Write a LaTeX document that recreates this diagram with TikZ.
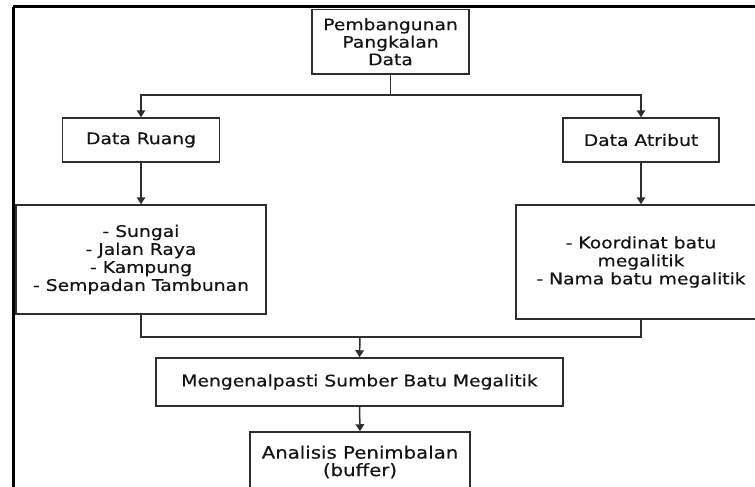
\documentclass[tikz,border=0pt]{standalone}
\usepackage{fontspec}
\setmainfont{DejaVu Sans}[FakeStretch=1.17,FakeBold=0.4]
\newfontfamily\anfont{DejaVu Sans}[FakeStretch=1.16,FakeBold=0.4]
\usetikzlibrary{arrows.meta}
\definecolor{inkc}{HTML}{141414}
\definecolor{boxc}{HTML}{2E2E2E}
\tikzset{
  box/.style={draw=boxc, line width=1.5pt, fill=white, align=center, text=inkc,
    inner sep=0pt, font=\fontsize{16}{17.5}\selectfont},
  conn/.style={draw=boxc, line width=1.5pt},
  arr/.style={conn, -{Triangle[width=8.5pt,length=7pt]}},
  frame/.style={draw=black, line width=3pt}
}
\begin{document}
\begin{tikzpicture}[x=1pt,y=-1pt]
\clip (0,0) rectangle (755,487);
\fill[white] (0,0) rectangle (755,487);
% outer frame (top and left edges visible)
\draw[frame] (13,7) -- (760,7);
\draw[frame] (13,7) -- (13,495);
% nodes
\node[box, minimum width=157pt, minimum height=64.5pt] (top) at (390.5,41.75)
  {Pembangunan\\Pangkalan\\Data};
\node[box, minimum width=157pt, minimum height=44pt] (ruang) at (141,140) {Data Ruang};
\node[box, minimum width=156pt, minimum height=44pt] (atribut) at (641,140) {Data Atribut};
\node[box, minimum width=250pt, minimum height=109pt, font=\fontsize{16}{18}\selectfont] (llist) at (141,259.5)
  {- Sungai\\- Jalan Raya\\- Kampung\\- Sempadan Tambunan};
\node[box, minimum width=250pt, minimum height=114pt, font=\fontsize{16}{18}\selectfont] (rlist) at (641,262)
  {- Koordinat batu\\megalitik\\- Nama batu megalitik};
\node[box, minimum width=407pt, minimum height=48pt] (meng) at (359.5,382)
  {Mengenalpasti Sumber Batu Megalitik};
\node[box, minimum width=220pt, minimum height=60pt, font=\anfont\fontsize{17}{17.5}\selectfont] (anal) at (360,462)
  {Analisis Penimbalan\\(buffer)};
% connectors
\coordinate (split) at (390.5,95);
\coordinate (merge) at (360,337);
\draw[conn] (top.south) -- (split);
\draw[arr] (split) -| (ruang.north);
\draw[arr] (split) -| (atribut.north);
\draw[arr] (ruang.south) -- (llist.north);
\draw[arr] (atribut.south) -- (rlist.north);
\draw[conn] (llist.south) |- (merge);
\draw[conn] (rlist.south) |- (merge);
\draw[arr] (merge) -- (meng.north);
\draw[arr] (meng.south) -- (anal.north);
\end{tikzpicture}
\end{document}
